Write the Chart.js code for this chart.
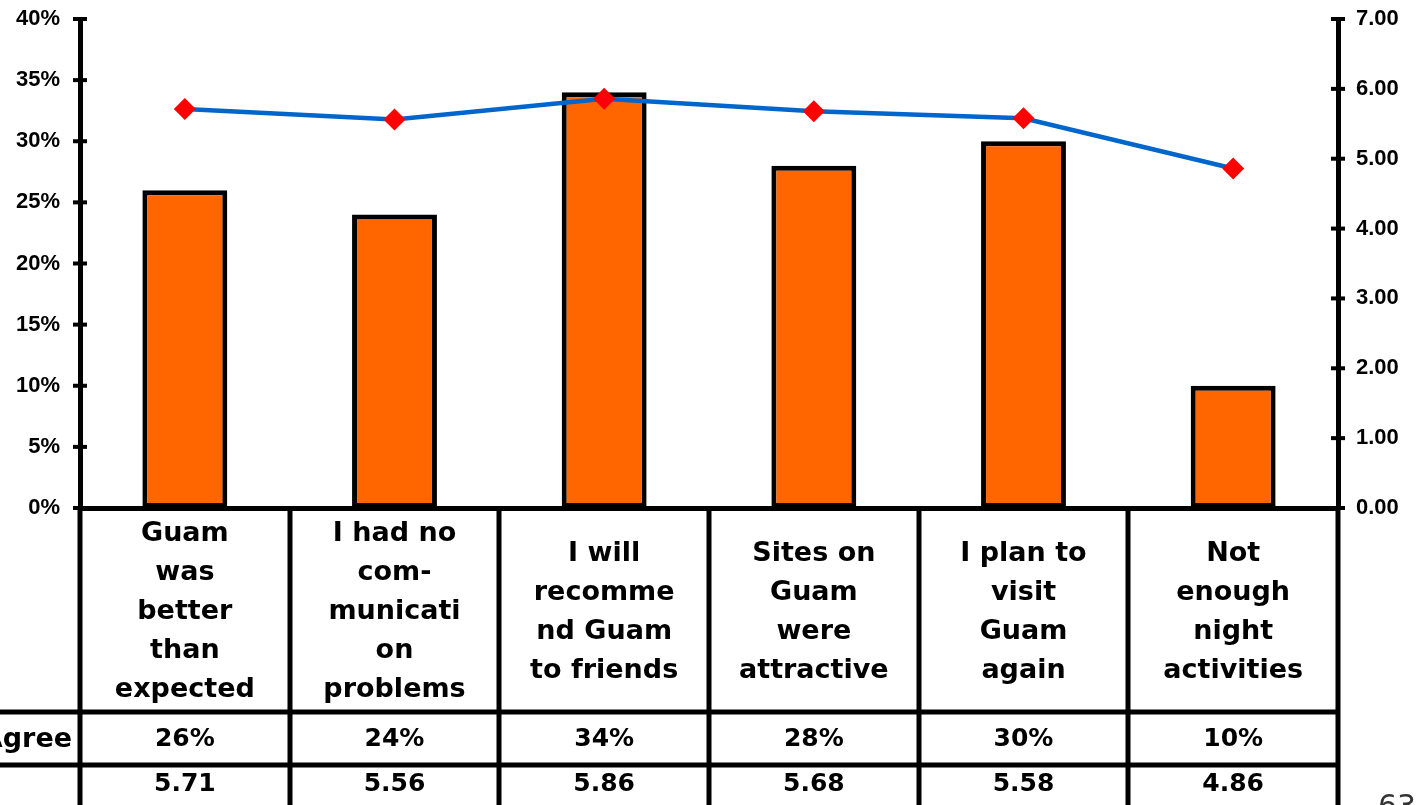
<!DOCTYPE html>
<html>
<head>
<meta charset="utf-8">
<title>Guam visitor satisfaction</title>
<script src="https://cdn.jsdelivr.net/npm/chart.js@4.4.1/dist/chart.umd.min.js"></script>
<style>
  html, body { margin: 0; padding: 0; background: #fff; overflow: hidden; }
  #wrap { width: 1416px; height: 805px; position: relative; }
</style>
</head>
<body>
<div id="wrap"><canvas id="chart"></canvas></div>
<script>
// statements (wrapped the way they appear in the table header cells)
const categories = [
    ['Guam', 'was', 'better', 'than', 'expected'],
    ['I had no', 'com-', 'municati', 'on', 'problems'],
    ['I will', 'recomme', 'nd Guam', 'to friends'],
    ['Sites on', 'Guam', 'were', 'attractive'],
    ['I plan to', 'visit', 'Guam', 'again'],
    ['Not', 'enough', 'night', 'activities']
];
const agreePct = [26, 24, 34, 28, 30, 10];
const meanScore = [5.71, 5.56, 5.86, 5.68, 5.58, 4.86];
const rowLabels = ['Agree', ''];

const TICK_FONT = { family: '"Liberation Sans", Arial, sans-serif', size: 22, weight: 'bold' };
const TABLE_FONT = '"DejaVu Sans", sans-serif';

// crossing tick marks on both value axes
const axisTicks = {
    id: 'axisTicks',
    afterDraw(chart) {
        const ctx = chart.ctx;
        ctx.save();
        ctx.strokeStyle = '#000';
        ctx.lineWidth = 4;
        ['y', 'y1'].forEach(id => {
            const s = chart.scales[id];
            const x = id === 'y' ? chart.chartArea.left : chart.chartArea.right;
            s.ticks.forEach(t => {
                const y = s.getPixelForValue(t.value);
                ctx.beginPath();
                ctx.moveTo(x - 7, y);
                ctx.lineTo(x + 7, y);
                ctx.stroke();
            });
        });
        ctx.restore();
    }
};

// data table under the plot
const dataTable = {
    id: 'dataTable',
    afterDraw(chart) {
        const ctx = chart.ctx;
        const area = chart.chartArea;
        const xs = chart.scales.x;
        const n = categories.length;
        const top = area.bottom;
        const row1 = top + 204;
        const row2 = row1 + 53;
        const bottom = chart.height;

        ctx.save();
        ctx.strokeStyle = '#000';
        ctx.lineWidth = 5;

        // column lines
        for (let i = 0; i <= n; i++) {
            const x = Math.round(xs.getPixelForValue(i - 0.5));
            ctx.beginPath();
            ctx.moveTo(x, top);
            ctx.lineTo(x, bottom);
            ctx.stroke();
        }
        // row lines
        [row1, row2].forEach(y => {
            ctx.beginPath();
            ctx.moveTo(0, y);
            ctx.lineTo(area.right + 2, y);
            ctx.stroke();
        });

        ctx.fillStyle = '#000';
        ctx.textAlign = 'center';
        ctx.textBaseline = 'middle';

        // header cells
        ctx.font = 'bold 27px ' + TABLE_FONT;
        const lh = 39;
        categories.forEach((lines, i) => {
            const cx = xs.getPixelForValue(i);
            const y0 = (top + row1) / 2 - (lines.length - 1) * lh / 2 + 2;
            lines.forEach((l, j) => ctx.fillText(l, cx, y0 + j * lh));
        });

        // value rows
        ctx.font = 'bold 25px ' + TABLE_FONT;
        agreePct.forEach((v, i) => ctx.fillText(v + '%', xs.getPixelForValue(i), (row1 + row2) / 2 + 1));
        meanScore.forEach((v, i) => ctx.fillText(v.toFixed(2), xs.getPixelForValue(i), row2 + 19));

        // row headers
        ctx.textAlign = 'right';
        ctx.font = 'bold 27px ' + TABLE_FONT;
        ctx.fillText(rowLabels[0], area.left - 8, (row1 + row2) / 2 + 1);
        ctx.fillText(rowLabels[1], area.left - 8, row2 + 19);

        // page number
        ctx.textAlign = 'left';
        ctx.font = '30px ' + TABLE_FONT;
        ctx.fillStyle = '#333';
        ctx.fillText('63', 1378, 808);
        ctx.restore();
    }
};

// value axes: fixed widths, no extra room reserved above the top label
function fitValueAxis(width) {
    return s => {
        s.width = width;
        s.paddingTop = 0;
        s.paddingBottom = 0;
    };
}

new Chart(document.getElementById('chart'), {
    data: {
        labels: categories.map(c => c.join(' ')),
        datasets: [
            {
                type: 'line',
                data: meanScore,
                yAxisID: 'y1',
                borderColor: '#0066CC',
                borderWidth: 4.5,
                pointStyle: 'rectRot',
                pointRadius: 11,
                pointBackgroundColor: '#FF0000',
                pointBorderColor: '#FF0000',
                pointBorderWidth: 0,
                tension: 0,
                order: 0
            },
            {
                type: 'bar',
                data: agreePct,
                yAxisID: 'y',
                backgroundColor: '#FF6600',
                borderColor: '#000',
                borderWidth: 5,
                borderSkipped: false,
                categoryPercentage: 1,
                barPercentage: 0.405,
                order: 1
            }
        ]
    },
    options: {
        responsive: true,
        maintainAspectRatio: false,
        animation: false,
        layout: { padding: { top: 19, left: 0, right: 0, bottom: 0 } },
        plugins: {
            legend: { display: false },
            tooltip: { enabled: false }
        },
        scales: {
            x: {
                offset: true,
                grid: { display: false, drawTicks: false },
                border: { display: true, color: '#000', width: 5 },
                ticks: { display: false },
                afterFit(s) { s.height = 297; }
            },
            y: {
                position: 'left',
                min: 0,
                max: 40,
                grid: { display: false, drawTicks: false },
                border: { display: true, color: '#000', width: 5 },
                ticks: {
                    stepSize: 5,
                    padding: 20,
                    color: '#000',
                    font: TICK_FONT,
                    callback: v => v + '%'
                },
                afterFit: fitValueAxis(80)
            },
            y1: {
                position: 'right',
                min: 0,
                max: 7,
                grid: { display: false, drawTicks: false },
                border: { display: true, color: '#000', width: 5 },
                ticks: {
                    stepSize: 1,
                    padding: 18,
                    color: '#000',
                    font: TICK_FONT,
                    callback: v => v.toFixed(2)
                },
                afterFit: fitValueAxis(78)
            }
        }
    },
    plugins: [axisTicks, dataTable]
});
</script>
</body>
</html>
